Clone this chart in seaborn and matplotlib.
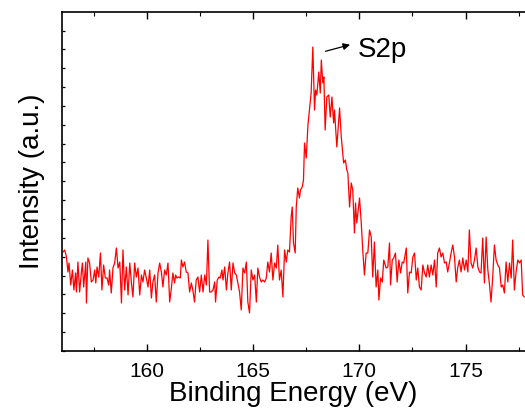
import numpy as np
import matplotlib
matplotlib.use("Agg")
import matplotlib.pyplot as plt
from matplotlib.ticker import MultipleLocator, NullFormatter
import seaborn as sns

# S2p XPS scan (intensity in a.u.)
energy_ev = [
    156.05, 156.13, 156.21, 156.28, 156.33, 156.41, 156.49, 156.56, 156.64, 156.68,
    156.75, 156.83, 156.91, 156.96, 157.02, 157.12, 157.15, 157.22, 157.30, 157.38,
    157.46, 157.54, 157.59, 157.65, 157.73, 157.81, 157.88, 157.96, 158.04, 158.12,
    158.20, 158.24, 158.32, 158.40, 158.48, 158.56, 158.64, 158.72, 158.80, 158.87,
    158.95, 159.03, 159.11, 159.19, 159.27, 159.34, 159.42, 159.50, 159.58, 159.66,
    159.74, 159.81, 159.89, 159.97, 160.05, 160.13, 160.21, 160.28, 160.36, 160.44,
    160.52, 160.60, 160.68, 160.75, 160.83, 160.91, 160.99, 161.07,
    161.15, 161.22, 161.30, 161.35, 161.41, 161.49, 161.57, 161.62, 161.69, 161.77,
    161.85, 161.93, 162.01, 162.09, 162.16, 162.24, 162.32, 162.40, 162.48, 162.56,
    162.64, 162.72, 162.80, 162.87, 162.95, 163.03, 163.11, 163.19, 163.23, 163.31,
    163.39, 163.45, 163.53, 163.58, 163.66, 163.74, 163.81, 163.89, 163.97, 164.05,
    164.13, 164.21, 164.28, 164.36, 164.44, 164.52, 164.60, 164.68, 164.75, 164.83,
    164.91, 164.99, 165.07, 165.15, 165.22, 165.30, 165.38, 165.46, 165.54, 165.62,
    165.69, 165.77, 165.85, 165.93, 166.01, 166.09, 166.16, 166.24,
    166.32, 166.40, 166.48, 166.56, 166.63, 166.71,
    166.79, 166.84, 166.90, 166.98, 167.03, 167.10, 167.18, 167.23, 167.31, 167.37,
    167.42, 167.50, 167.58, 167.65, 167.73, 167.81, 167.89, 167.94, 168.00, 168.09,
    168.16, 168.21, 168.28, 168.33, 168.39, 168.47, 168.56, 168.63, 168.71, 168.79,
    168.83, 168.94, 169.07, 169.15, 169.26, 169.34, 169.41, 169.46, 169.54, 169.62,
    169.69, 169.77, 169.82, 169.88, 169.96, 170.01, 170.09, 170.16, 170.24, 170.32,
    170.40, 170.48, 170.56, 170.63, 170.71, 170.79, 170.87, 170.92, 171.00, 171.08,
    171.15, 171.26, 171.34, 171.42, 171.47, 171.55, 171.62, 171.70, 171.78, 171.86,
    171.94, 172.02, 172.09, 172.21, 172.28, 172.36, 172.44, 172.52, 172.60, 172.68,
    172.75, 172.83, 172.91, 172.99, 173.07, 173.15, 173.22, 173.30, 173.38, 173.46,
    173.54, 173.62, 173.69, 173.77, 173.85, 173.93, 174.01, 174.09, 174.16, 174.24,
    174.32, 174.40, 174.48, 174.56, 174.63, 174.71, 174.79, 174.87, 174.95, 175.03,
    175.11, 175.18, 175.26, 175.34, 175.42, 175.50, 175.58, 175.66, 175.73, 175.81,
    175.89, 175.97, 176.05, 176.13, 176.20, 176.28, 176.36, 176.44, 176.52, 176.60,
    176.68, 176.75, 176.83, 176.91, 176.99, 177.07, 177.15, 177.22, 177.30, 177.38,
    177.46, 177.54, 177.62, 177.69, 177.77,
]

intensity = [
    99, 101, 94, 79, 88, 66, 81, 61, 78, 59,
    89, 59, 78, 88, 64, 89, 48, 93, 88, 69,
    71, 81, 68, 84, 74, 98, 61, 86, 73, 73,
    66, 81, 58, 83, 88, 103, 83, 89, 48, 101,
    61, 84, 56, 88, 68, 54, 88, 74, 83, 56,
    76, 69, 81, 73, 64, 81, 53, 69, 76, 49,
    78, 88, 79, 64, 81, 76, 88, 49,
    63, 78, 68, 76, 73, 74, 73, 91, 84, 89,
    79, 78, 59, 68, 61, 49, 71, 74, 59, 76,
    59, 76, 66, 111, 59, 59, 61, 69, 49, 71,
    74, 73, 81, 71, 84, 61, 78, 89, 61, 88,
    78, 76, 68, 59, 41, 83, 78, 89, 49, 38,
    81, 71, 76, 49, 83, 74, 69, 71, 69, 73,
    89, 79, 98, 71, 88, 83, 106, 71,
    81, 54, 101, 89, 101, 99,
    134, 144, 108, 98, 144, 163, 153, 161, 164, 171,
    208, 193, 226, 241, 258, 304, 241, 261, 256, 279,
    258, 291, 268, 274, 221, 254, 256, 234, 254, 228,
    241, 204, 243, 214, 188, 191, 181, 178, 144, 168,
    161, 118, 148, 128, 144, 153, 128, 101, 76, 98,
    98, 121, 114, 74, 109, 64, 81, 51, 73, 69,
    91, 83, 84, 108, 66, 91, 93, 98, 69, 91,
    78, 89, 88, 103, 58, 79, 78, 94, 98, 71,
    83, 64, 61, 86, 78, 74, 86, 74, 86, 76,
    91, 64, 98, 103, 94, 98, 88, 89, 79, 88,
    98, 106, 94, 69, 83, 91, 79, 93, 81, 91,
    79, 121, 88, 83, 91, 103, 84, 79, 78, 113,
    68, 114, 81, 66, 49, 74, 106, 91, 86, 83,
    64, 66, 58, 89, 69, 88, 73, 111, 61, 79,
    91, 88, 91, 56, 54,
]

x_ticks = [160, 165, 170, 175]
peak_label = "S2p"

#Setting styles
sns.set_style("ticks")
plt.rcParams["font.family"] = ["Liberation Sans", "DejaVu Sans"]
plt.rcParams["text.color"] = "black"
plt.rcParams["axes.labelcolor"] = "black"
plt.rcParams["xtick.color"] = "black"
plt.rcParams["ytick.color"] = "black"

fig = plt.figure(figsize=(5.25, 4.13), dpi=100)
ax = fig.add_axes([62 / 525, 1 - 351 / 413, 1 - 62 / 525, 339 / 413])

#Plotting the spectrum
sns.lineplot(x=energy_ev, y=intensity, color="red", linewidth=0.9, ax=ax)

#Axis limits and ticks
ax.set_xlim(156.0, 177.8)
ax.set_ylim(0, 339)
ax.set_xticks(x_ticks)
ax.xaxis.set_minor_locator(MultipleLocator(2.5))
ax.yaxis.set_major_locator(MultipleLocator(18.85))
ax.yaxis.set_major_formatter(NullFormatter())

ax.tick_params(axis="x", which="major", direction="in", length=5, width=1,
               labelsize=15, pad=8, top=True)
ax.tick_params(axis="x", which="minor", direction="in", length=3, width=0.8,
               top=True)
ax.tick_params(axis="y", which="major", direction="in", length=2.5, width=0.9,
               left=True, right=False)

for side in ["left", "bottom", "top"]:
    ax.spines[side].set_linewidth(1.2)
    ax.spines[side].set_color("black")
ax.spines["right"].set_visible(False)

#Labels
ax.set_xlabel("Binding Energy (eV)", fontsize=20, labelpad=0)
ax.set_ylabel("Intensity (a.u.)", fontsize=20, labelpad=9)

#Peak annotation
ax.annotate("", xy=(169.69, 307), xytext=(168.28, 299),
            arrowprops=dict(arrowstyle="-|>", color="black", lw=0.9,
                            mutation_scale=10))
ax.text(169.92, 294, peak_label, fontsize=20, va="baseline", ha="left")

fig.savefig("out.png", dpi=100)
